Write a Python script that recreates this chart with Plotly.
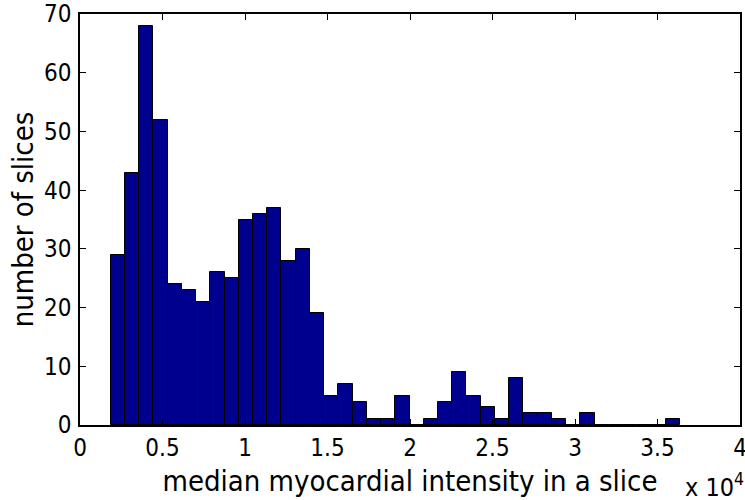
import numpy as np
import plotly.graph_objects as go

# histogram (x in units of 1e4)
counts = [29, 43, 68, 52, 24, 23, 21, 26, 25, 35,
          36, 37, 28, 30, 19, 5, 7, 4, 1, 1,
          5, 0, 1, 4, 9, 5, 3, 1, 8, 2,
          2, 1, 0, 2, 0, 0, 0, 0, 0, 1]
x_min = 0.186
x_max = 3.636
x_ticks = [0, 0.5, 1, 1.5, 2, 2.5, 3, 3.5, 4]
y_ticks = [0, 10, 20, 30, 40, 50, 60, 70]

edges = np.linspace(x_min, x_max, len(counts) + 1)
centers = (edges[:-1] + edges[1:]) / 2
bin_w = edges[1] - edges[0]

FONT = "DejaVu Sans Condensed, Liberation Sans, sans-serif"

fig = go.Figure()
fig.add_trace(go.Bar(
    x=centers, y=counts, width=bin_w,
    marker=dict(color="rgb(0,0,143)", line=dict(color="black", width=1)),
    showlegend=False,
))

fig.update_layout(
    width=745, height=500,
    margin=dict(l=80, r=5, t=14, b=75),
    plot_bgcolor="white", paper_bgcolor="white",
    font=dict(family=FONT, size=24, color="black"),
    bargap=0,
)
fig.update_xaxes(
    range=[0, 4], tickvals=x_ticks, ticktext=[f"{t:g}" for t in x_ticks],
    automargin=False, ticklabeloverflow="allow",
    showgrid=False, zeroline=False,
    showline=True, mirror="ticks", linecolor="black", linewidth=1.5,
    ticks="inside", ticklen=6, tickcolor="black",
    tickfont=dict(size=24),
    title=dict(text="median myocardial intensity in a slice", standoff=10,
               font=dict(size=29)),
)
fig.update_yaxes(
    range=[0, 70], tickvals=y_ticks,
    automargin=False, ticklabeloverflow="allow",
    showgrid=False, zeroline=False,
    showline=True, mirror="ticks", linecolor="black", linewidth=1.5,
    ticks="inside", ticklen=6, tickcolor="black",
    tickfont=dict(size=24),
    ticklabelstandoff=2,
    title=dict(text="number of slices", standoff=2, font=dict(size=29)),
)
fig.add_annotation(
    x=1.0, y=0, xref="paper", yref="paper",
    xanchor="right", yanchor="bottom", yshift=-79, xshift=6,
    text="x 10<sup>4</sup>", showarrow=False,
    font=dict(family=FONT, size=25),
)

# no default page margin, so the figure sits at the window's corner
fig.write_html("out.html", config={"displayModeBar": False},
               post_script="document.body.style.margin='0';")
